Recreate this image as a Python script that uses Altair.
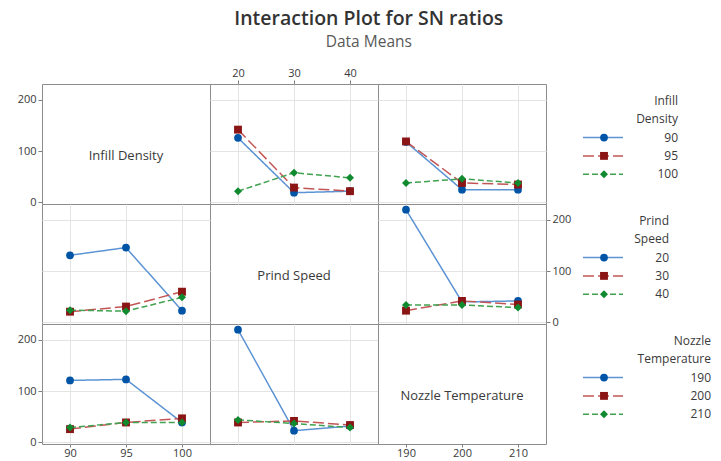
import altair as alt
import pandas as pd

FONT = "Open Sans"
TXT = "#3a3a3a"

factor_names = ["Infill Density", "Prind Speed", "Nozzle Temperature"]
legend_title_lines = [["Infill", "Density"], ["Prind", "Speed"], ["Nozzle", "Temperature"]]
infill_levels = [90, 95, 100]
speed_levels = [20, 30, 40]
nozzle_levels = [190, 200, 210]
levels = [infill_levels, speed_levels, nozzle_levels]
x_domains = [[87.5, 102.5], [15, 45], [185, 215]]
y_ticks = [0, 100, 200]
y_domain = [-3, 231]

# Mean SN ratios: one list per level of the trace factor (row), along the x factor (column)
infill_by_speed = [[126, 19, 22], [142, 29, 22], [22, 58, 48]]
infill_by_nozzle = [[118, 25, 25], [119, 38, 35], [38, 46, 38]]
speed_by_infill = [[131, 146, 23], [21, 31, 60], [24, 22, 49]]
speed_by_nozzle = [[220, 40, 42], [23, 42, 35], [34, 34, 29]]
nozzle_by_infill = [[121, 123, 39], [26, 39, 47], [29, 39, 39]]
nozzle_by_speed = [[220, 23, 32], [39, 42, 34], [44, 37, 29]]

series_ids = ["s0", "s1", "s2"]
marker_colors = ["#0054a6", "#8b1414", "#108a2e"]
line_colors = ["#5b93d3", "#c25656", "#40a250"]
dashes = [[1, 0], [11, 4], [6, 3]]
shapes = ["circle", "square", "diamond"]
marker_sizes = [60, 64, 95]

PW, PH = 168, 120

stroke_scale = alt.Scale(domain=series_ids, range=line_colors)
fill_scale = alt.Scale(domain=series_ids, range=marker_colors)
dash_scale = alt.Scale(domain=series_ids, range=dashes)
shape_scale = alt.Scale(domain=series_ids, range=shapes)
size_scale = alt.Scale(domain=series_ids, range=marker_sizes)


def make_axis(orient, values, grid, show):
    if show:
        bottom = orient == "bottom"
        return alt.Axis(orient=orient, values=values, grid=grid, title=None,
                        domain=False, labels=True, ticks=True,
                        tickSize=3 if bottom else 4,
                        labelPadding=0 if bottom else 2)
    return alt.Axis(orient=orient, values=values, grid=grid, title=None,
                    domain=False, labels=False, ticks=False)


def x_enc(xi, show=None):
    return alt.X("x:Q", scale=alt.Scale(domain=x_domains[xi], nice=False, zero=False),
                 axis=make_axis(show or "bottom", levels[xi], True, show is not None))


def y_enc(show=None, grid=True):
    return alt.Y("y:Q", scale=alt.Scale(domain=y_domain, nice=False, zero=False),
                 axis=make_axis(show or "left", y_ticks, grid, show is not None))


def data_panel(xi, vals, xshow=None, yshow=None):
    rows = []
    for s, series in enumerate(vals):
        for j, v in enumerate(series):
            rows.append({"x": levels[xi][j], "y": v, "s": series_ids[s]})
    df = pd.DataFrame(rows)
    base = alt.Chart(df)
    lines = base.mark_line(strokeWidth=1.5).encode(
        x=x_enc(xi, xshow), y=y_enc(yshow),
        stroke=alt.Stroke("s:N", scale=stroke_scale, legend=None),
        strokeDash=alt.StrokeDash("s:N", scale=dash_scale, legend=None),
        detail="s:N",
    )
    pts = base.mark_point(filled=True, opacity=1).encode(
        x=x_enc(xi, xshow), y=y_enc(yshow),
        fill=alt.Fill("s:N", scale=fill_scale, legend=None),
        shape=alt.Shape("s:N", scale=shape_scale, legend=None),
        size=alt.Size("s:N", scale=size_scale, legend=None),
    )
    return alt.layer(lines, pts).properties(width=PW, height=PH)


def diag_panel(k, xshow=None, yshow=None):
    lab = alt.Chart(pd.DataFrame({"t": [factor_names[k]]})).mark_text(
        font=FONT, fontSize=13, color=TXT, dy=12).encode(text="t:N")
    layers = [lab]
    if yshow:
        layers.append(alt.Chart(pd.DataFrame({"y": y_ticks})).mark_tick(opacity=0).encode(
            y=y_enc(yshow, grid=False)))
    if xshow:
        layers.append(alt.Chart(pd.DataFrame({"x": levels[k]})).mark_tick(opacity=0).encode(
            x=alt.X("x:Q", scale=alt.Scale(domain=x_domains[k], nice=False, zero=False),
                    axis=make_axis(xshow, levels[k], False, True))))
    return alt.layer(*layers).properties(width=PW, height=PH)


legend_right = [132, 123, 165]
legend_y = alt.Scale(domain=[-0.93, 5.63], reverse=True)


def legend_panel(k):
    titles = pd.DataFrame({"i": [0, 1], "t": legend_title_lines[k]})
    items = pd.DataFrame({"i": [2, 3, 4], "t": [str(v) for v in levels[k]], "s": series_ids})
    y = alt.Y("i:Q", scale=legend_y, axis=None)
    ttl = alt.Chart(titles).mark_text(font=FONT, fontSize=12, color=TXT, align="right").encode(
        x=alt.value(legend_right[k]), y=y, text="t:N")
    rule = alt.Chart(items).mark_rule(strokeWidth=1.5).encode(
        x=alt.value(37), x2=alt.value(77), y=y,
        stroke=alt.Stroke("s:N", scale=stroke_scale, legend=None),
        strokeDash=alt.StrokeDash("s:N", scale=dash_scale, legend=None))
    pt = alt.Chart(items).mark_point(filled=True, opacity=1).encode(
        x=alt.value(58), y=y,
        fill=alt.Fill("s:N", scale=fill_scale, legend=None),
        shape=alt.Shape("s:N", scale=shape_scale, legend=None),
        size=alt.Size("s:N", scale=alt.Scale(domain=series_ids, range=[85, 85, 120]), legend=None))
    lab = alt.Chart(items).mark_text(font=FONT, fontSize=12, color=TXT, align="right").encode(
        x=alt.value(legend_right[k]), y=y, text="t:N")
    return alt.layer(ttl, rule, pt, lab).properties(
        width=175, height=PH, view=alt.ViewBackground(strokeOpacity=0))


cells = [
    diag_panel(0, yshow="left"),
    data_panel(1, infill_by_speed, xshow="top"),
    data_panel(2, infill_by_nozzle),
    legend_panel(0),
    data_panel(0, speed_by_infill),
    diag_panel(1),
    data_panel(2, speed_by_nozzle, yshow="right"),
    legend_panel(1),
    data_panel(0, nozzle_by_infill, xshow="bottom", yshow="left"),
    data_panel(1, nozzle_by_speed),
    diag_panel(2, xshow="bottom"),
    legend_panel(2),
]

chart = alt.concat(*cells, columns=4, spacing=0, bounds="flush").properties(
    title=alt.TitleParams(
        "Interaction Plot for SN ratios", subtitle="Data Means", anchor="middle",
        font=FONT, fontSize=19.5, fontWeight=600, color="#333333",
        subtitleFont=FONT, subtitleFontSize=15.5, subtitleColor="#595959",
        subtitlePadding=6, offset=15),
    padding={"left": 16, "top": 8, "right": 0, "bottom": 0},
).configure_view(stroke="#8c8c8c", strokeWidth=1).configure_axis(
    labelFont=FONT, labelFontSize=11, labelColor=TXT, tickColor="#7f7f7f",
    tickSize=4, labelPadding=2, gridColor="#e4e4e4", domain=False)

chart.save("out.html", embed_options={"renderer": "svg", "actions": False})
